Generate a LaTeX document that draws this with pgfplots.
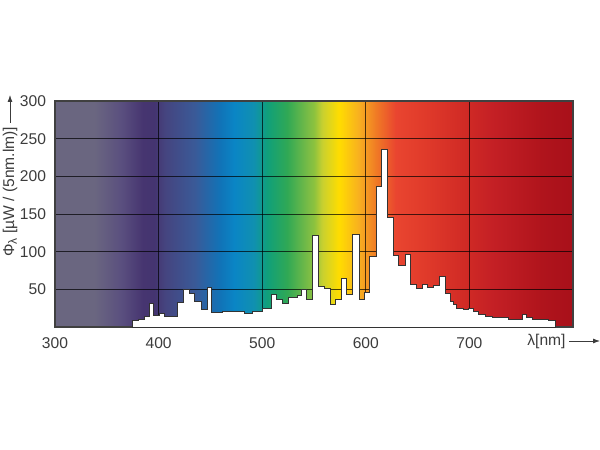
\documentclass[border=0pt]{standalone}
\usepackage{fontspec}
\setmainfont{Liberation Sans}
\usepackage{pgfplots}
\pgfplotsset{compat=1.18}
\usetikzlibrary{arrows.meta}
\definecolor{lab}{HTML}{3C3C3C}
\pgfdeclarehorizontalshading{spectrum}{100bp}{
rgb(0bp)=(0.416,0.400,0.502);
rgb(25bp)=(0.416,0.400,0.502);
rgb(28.8bp)=(0.416,0.400,0.502);
rgb(31.4bp)=(0.353,0.310,0.498);
rgb(33.5bp)=(0.275,0.208,0.439);
rgb(34.6bp)=(0.267,0.204,0.439);
rgb(35.6bp)=(0.271,0.267,0.498);
rgb(38.5bp)=(0.227,0.353,0.596);
rgb(41bp)=(0.063,0.455,0.722);
rgb(42.3bp)=(0.039,0.522,0.773);
rgb(44.2bp)=(0.063,0.565,0.690);
rgb(45.5bp)=(0.063,0.627,0.478);
rgb(47.4bp)=(0.188,0.659,0.333);
rgb(49.5bp)=(0.490,0.741,0.271);
rgb(50bp)=(0.549,0.761,0.243);
rgb(50.8bp)=(0.784,0.816,0.188);
rgb(52.4bp)=(1,0.867,0);
rgb(54.3bp)=(0.973,0.690,0.125);
rgb(56bp)=(0.941,0.478,0.145);
rgb(57.9bp)=(0.914,0.271,0.188);
rgb(60.8bp)=(0.878,0.227,0.165);
rgb(64.6bp)=(0.816,0.165,0.145);
rgb(67.2bp)=(0.769,0.125,0.145);
rgb(72bp)=(0.690,0.078,0.110);
rgb(75bp)=(0.659,0.063,0.102);
rgb(100bp)=(0.659,0.063,0.102)}
\begin{document}
\begin{tikzpicture}
\useasboundingbox (-27.5pt,-61.5pt) rectangle (272.5pt,163.5pt);
\begin{axis}[at={(0,0)}, anchor=south west,
  width=259pt, height=113pt, scale only axis,
  xmin=300, xmax=800, ymin=0, ymax=300,
  xtick={300,400,...,700}, ytick={50,100,...,300},
  major tick length=0pt,
  grid=major, major grid style={black, opacity=0.7, line width=0.5pt},
  axis line style={black!75, line width=0.6pt},
  axis background/.style={shade, shading=spectrum},
  tick label style={font=\fontsize{7.8}{9}\selectfont, text=lab},
  /pgf/number format/assume math mode=true,
  xticklabel style={yshift=-2pt}, yticklabel style={xshift=-1pt},
]
\addplot[const plot, fill=white, draw=black!80, line width=0.5pt] coordinates {
(374.5,8) (381,10) (386,14) (391,31) (395.5,15) (401,18) (406,14) (418.5,32) (424,50) (430,45) (435,34) (441,23) (447,53) (451.5,19) (462,20.5) (475,21) (483,18) (491,21) (500,25) (508.5,43) (513.5,36) (520,31) (525,39) (534.5,42) (538,50) (543,36) (548.5,122) (554.5,54) (560.5,51) (565.5,30) (570.5,36) (576.5,64) (581.5,43) (587,123) (593.5,37) (599,46) (604,94) (610,187) (615.5,236) (621,145) (626.5,95) (632,82) (638,96) (643.5,57) (648.5,51) (654.5,57) (659.5,53) (665.5,55) (671,67) (676.5,44) (682,34) (685,30) (688,25) (694.5,23) (699.5,25) (704,20) (709,17) (715.5,14) (722,12) (738,10.5) (751,17) (755.5,12) (760.5,10) (776.5,9) (783,9)
} \closedcycle;
\end{axis}
\node[rotate=90, anchor=west, inner sep=0pt, text=lab, font=\fontsize{7.8}{9}\selectfont] at (-22.5pt,35pt) {Φ\raisebox{-0.35ex}{\fontsize{6}{7}\selectfont λ} [µW / (5nm.lm)]};
\draw[lab, line width=0.4pt, -{Latex[length=3.5pt,width=2.5pt]}] (-22.5pt,102pt) -- (-22.5pt,116pt);
\node[anchor=west, inner sep=0pt, text=lab, font=\fontsize{7.8}{9}\selectfont] at (236pt,-7pt) {λ[nm]};
\draw[lab, line width=0.4pt, -{Latex[length=3.5pt,width=2.5pt]}] (257pt,-7pt) -- (272.5pt,-7pt);
\end{tikzpicture}
\end{document}
